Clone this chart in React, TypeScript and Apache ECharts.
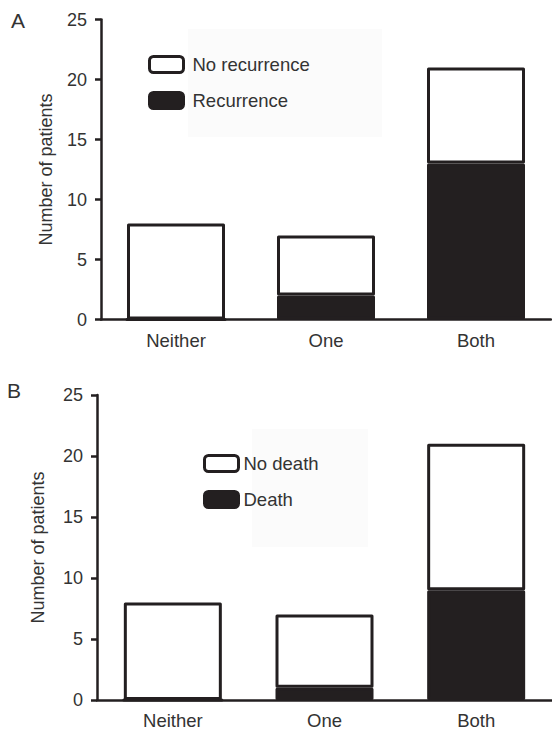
import React, { useEffect, useRef } from "react";
import * as echarts from "echarts";

const categories = ["Neither", "One", "Both"];
const recurrence = [0, 2, 13];
const noRecurrence = [8, 5, 8];
const death = [0, 1, 9];
const noDeath = [8, 6, 12];
const yTicks = { min: 0, max: 25, interval: 5 };

const INK = "#231f20";
const TEXT = "#333333";
const FONT = "'Liberation Sans', Arial, Helvetica, sans-serif";

export default function App() {
  const ref = useRef<HTMLDivElement>(null);
  useEffect(() => {
    if (!ref.current) return;
    const chart = echarts.init(ref.current, undefined, { renderer: "svg" });
    const xAxisBase = (gridIndex: number) => ({
      type: "category",
      gridIndex,
      data: categories,
      boundaryGap: true,
      axisLine: { lineStyle: { color: INK, width: 2.5 } },
      axisTick: { alignWithLabel: true, length: 6, lineStyle: { color: INK, width: 2.5 } },
      axisLabel: { color: TEXT, fontSize: 18.5, fontFamily: FONT, margin: 11 },
    });
    const yAxisBase = (gridIndex: number, nameGap: number) => ({
      type: "value",
      gridIndex,
      min: yTicks.min,
      max: yTicks.max,
      interval: yTicks.interval,
      name: "Number of patients",
      nameLocation: "middle",
      nameGap,
      nameTextStyle: { color: TEXT, fontSize: 18, fontFamily: FONT },
      axisLine: { show: true, lineStyle: { color: INK, width: 2.5 } },
      axisTick: { show: true, length: 6, lineStyle: { color: INK, width: 2.5 } },
      axisLabel: { color: TEXT, fontSize: 18, fontFamily: FONT, margin: 14 },
      splitLine: { show: false },
    });
    const whiteStyle = { color: "#ffffff", borderColor: INK, borderWidth: 3, borderJoin: "round" };
    const blackStyle = { color: INK, borderColor: INK, borderWidth: 3, borderJoin: "round" };
    const bar = (name: string, data: number[], idx: number, stack: string, style: any) => ({
      name,
      type: "bar",
      xAxisIndex: idx,
      yAxisIndex: idx,
      stack,
      data,
      barWidth: 98,
      itemStyle: style,
    });
    const legendBase = {
      orient: "vertical",
      itemWidth: 34,
      itemHeight: 16,
      itemGap: 17,
      icon: "roundRect",
      textStyle: { color: TEXT, fontSize: 18.5, fontFamily: FONT },
    };
    chart.setOption({
      animation: false,
      backgroundColor: "#ffffff",
      grid: [
        { left: 101, top: 19.5, width: 450, height: 300 },
        { left: 97, top: 395, width: 455, height: 305 },
      ],
      xAxis: [xAxisBase(0), xAxisBase(1)],
      yAxis: [yAxisBase(0, 46), yAxisBase(1, 50)],
      legend: [
        {
          ...legendBase,
          left: 143,
          top: 50,
          textStyle: { ...legendBase.textStyle, padding: [0, 0, 0, 4] },
          data: [
            { name: "No recurrence", itemStyle: { ...whiteStyle } },
            { name: "Recurrence", itemStyle: { ...blackStyle } },
          ],
        },
        {
          ...legendBase,
          left: 198,
          top: 449,
          data: [
            { name: "No death", itemStyle: { ...whiteStyle } },
            { name: "Death", itemStyle: { ...blackStyle } },
          ],
        },
      ],
      graphic: [
        { type: "rect", z: -10, shape: { x: 188, y: 29, width: 194, height: 108 }, style: { fill: "#fbfbfb" } },
        { type: "rect", z: -10, shape: { x: 252, y: 429, width: 116, height: 118 }, style: { fill: "#fbfbfb" } },
        { type: "text", left: 11, top: 10, style: { text: "A", fontSize: 21, fontFamily: FONT, fill: TEXT } },
        { type: "text", left: 7, top: 380, style: { text: "B", fontSize: 21, fontFamily: FONT, fill: TEXT } },
      ],
      series: [
        bar("Recurrence", recurrence, 0, "a", blackStyle),
        bar("No recurrence", noRecurrence, 0, "a", whiteStyle),
        bar("Death", death, 1, "b", blackStyle),
        bar("No death", noDeath, 1, "b", whiteStyle),
      ],
    });
    return () => chart.dispose();
  }, []);
  return (
    <div
      ref={ref}
      style={{ position: "fixed", left: 0, top: 0, width: 552, height: 735, background: "#fff" }}
    />
  );
}
